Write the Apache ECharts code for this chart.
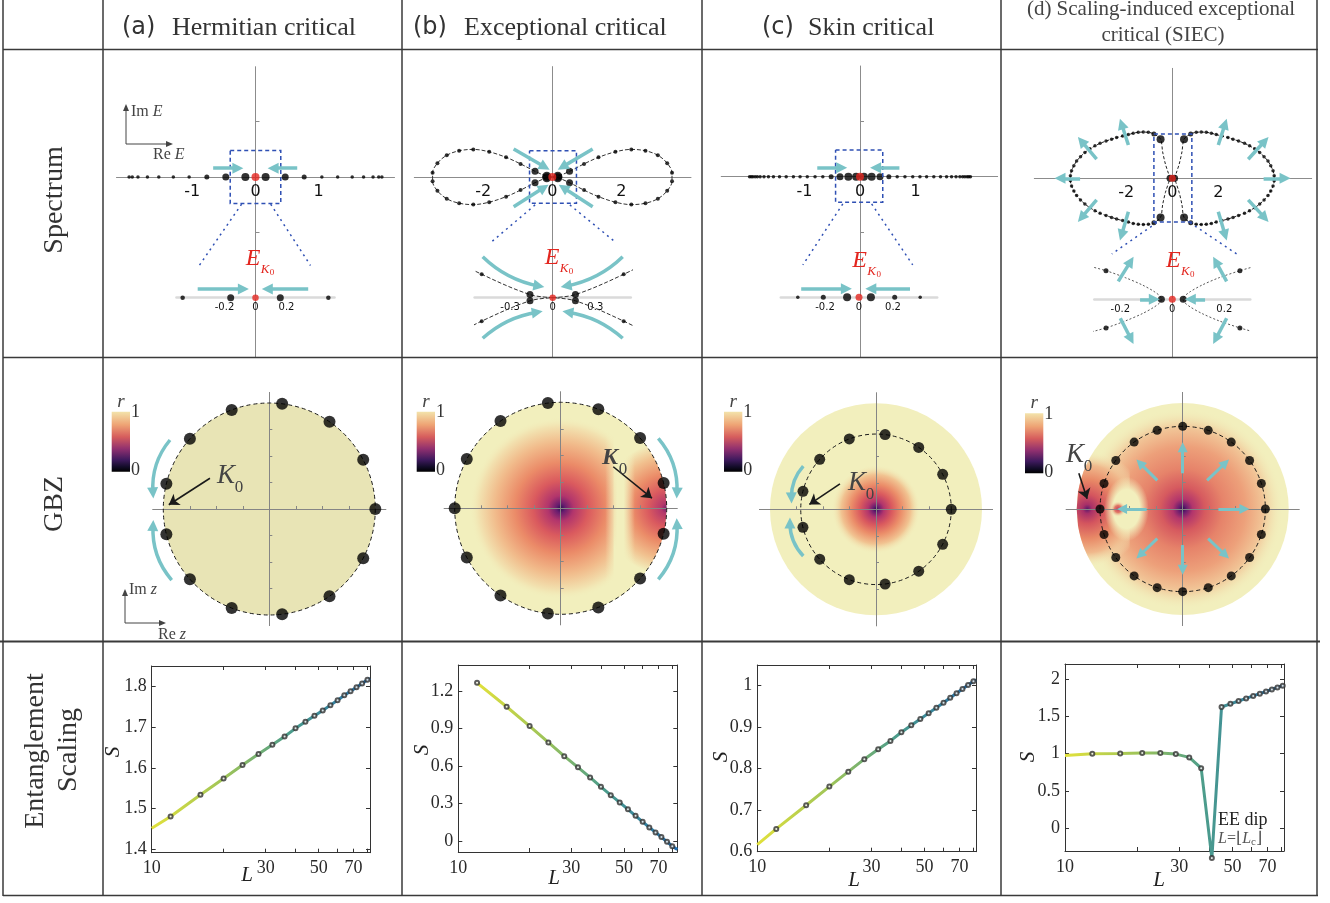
<!DOCTYPE html>
<html>
<head>
<meta charset="utf-8">
<script src="https://cdn.jsdelivr.net/npm/echarts@6.0.0/dist/echarts.min.js"></script>
<style>
html,body{margin:0;padding:0;background:#fff;}
#chart{width:1330px;height:903px;}
</style>
</head>
<body>
<div id="chart"></div>
<script>
// ======================= DATA =======================
// Row 1 – spectra, [Re E, Im E]
const specA_E = [-2.0,-1.95,-1.86,-1.71,-1.53,-1.30,-1.05,-0.77,-0.47,-0.16,0.16,0.47,0.77,1.05,1.30,1.53,1.71,1.86,1.95,2.0];
const specC_E = [-1.99,-1.96,-1.93,-1.89,-1.85,-1.80,-1.73,-1.65,-1.56,-1.45,-1.33,-1.20,-1.08,-0.95,-0.81,-0.67,-0.52,-0.36,-0.21,-0.07,
                 0.07,0.21,0.36,0.52,0.67,0.81,0.95,1.08,1.20,1.33,1.45,1.56,1.65,1.73,1.80,1.85,1.89,1.93,1.96,1.99];
const specB_left = [[-0.16,0.022],[-0.50,0.165],[-0.92,0.38],[-1.34,0.57],[-1.83,0.73],[-2.29,0.80],[-2.70,0.76],[-3.06,0.63],[-3.33,0.40],[-3.47,0.12],
                    [-3.47,-0.12],[-3.33,-0.40],[-3.06,-0.63],[-2.70,-0.76],[-2.29,-0.80],[-1.83,-0.73],[-1.34,-0.57],[-0.92,-0.38],[-0.50,-0.165],[-0.16,-0.022]];
const specB_right = [[0.16,0.022],[0.50,0.165],[0.92,0.38],[1.34,0.57],[1.83,0.73],[2.29,0.80],[2.70,0.76],[3.06,0.63],[3.33,0.40],[3.47,0.12],
                     [3.47,-0.12],[3.33,-0.40],[3.06,-0.63],[2.70,-0.76],[2.29,-0.80],[1.83,-0.73],[1.34,-0.57],[0.92,-0.38],[0.50,-0.165],[0.16,-0.022]];
const specD_left = [[-0.51,1.70],[-0.80,1.93],[-1.04,2.00],[-1.26,2.01],[-1.48,2.00],[-1.70,1.96],[-1.91,1.90],[-2.16,1.84],[-2.42,1.77],[-2.64,1.70],
                    [-2.88,1.62],[-3.14,1.52],[-3.36,1.41],[-3.58,1.28],[-3.80,1.12],[-3.99,0.94],[-4.16,0.75],[-4.28,0.55],[-4.38,0.33],[-4.43,0.11],
                    [-4.43,-0.11],[-4.38,-0.33],[-4.28,-0.55],[-4.16,-0.75],[-3.99,-0.94],[-3.80,-1.12],[-3.58,-1.28],[-3.36,-1.41],[-3.14,-1.52],[-2.88,-1.62],
                    [-2.64,-1.70],[-2.42,-1.77],[-2.16,-1.84],[-1.91,-1.90],[-1.70,-1.96],[-1.48,-2.00],[-1.26,-2.01],[-1.04,-2.00],[-0.80,-1.93],[-0.51,-1.70]];
const specD_right = [[0.51,1.70],[0.80,1.93],[1.04,2.00],[1.26,2.01],[1.48,2.00],[1.70,1.96],[1.91,1.90],[2.16,1.84],[2.42,1.77],[2.64,1.70],
                     [2.88,1.62],[3.14,1.52],[3.36,1.41],[3.58,1.28],[3.80,1.12],[3.99,0.94],[4.16,0.75],[4.28,0.55],[4.38,0.33],[4.43,0.11],
                     [4.43,-0.11],[4.38,-0.33],[4.28,-0.55],[4.16,-0.75],[3.99,-0.94],[3.80,-1.12],[3.58,-1.28],[3.36,-1.41],[3.14,-1.52],[2.88,-1.62],
                     [2.64,-1.70],[2.42,-1.77],[2.16,-1.84],[1.91,-1.90],[1.70,-1.96],[1.48,-2.00],[1.26,-2.01],[1.04,-2.00],[0.80,-1.93],[0.51,-1.70]];
const specD_neckUL = [[-0.10,0.00],[-0.17,0.22],[-0.30,0.62],[-0.42,1.15]];
const specD_neckLL = [[-0.42,-1.15],[-0.30,-0.62],[-0.17,-0.22],[-0.10,0.00]];
const specD_neckUR = [[0.10,0.00],[0.17,0.22],[0.30,0.62],[0.42,1.15]];
const specD_neckLR = [[0.42,-1.15],[0.30,-0.62],[0.17,-0.22],[0.10,0.00]];
const specD_center = [[-0.10,0],[0.10,0]];
// zoomed inset of (d)
const specDz_left = [[-0.33,0.13],[-0.255,0.11],[-0.18,0.083],[-0.115,0.055],[-0.07,0.03],[-0.047,0.012],[-0.042,0],[-0.047,-0.012],[-0.07,-0.03],[-0.115,-0.055],[-0.18,-0.083],[-0.255,-0.11],[-0.33,-0.13]];
const specDz_right = [[0.33,0.13],[0.26,0.11],[0.18,0.083],[0.115,0.055],[0.07,0.03],[0.047,0.012],[0.042,0],[0.047,-0.012],[0.07,-0.03],[0.115,-0.055],[0.18,-0.083],[0.26,-0.11],[0.33,-0.13]];
const specDz_pts = [[-0.255,0.11],[-0.255,-0.11],[0.26,0.11],[0.26,-0.11]];
const specDz_center = [[-0.042,0],[0.042,0]];
const E_K0 = [[0,0]];
// tick labels of the spectrum axes
const specMainLabels = [[-1,0,1],[-2,0,2],[-1,0,1],[-2,0,2]];
const specInsetLabels = [[-0.2,0,0.2],[-0.3,0,0.3],[-0.2,0,0.2],[-0.2,0,0.2]];

// Row 2 – GBZ points z = [Re z, Im z]
const gbzA_z = [[1,0],[0.886,0.465],[0.568,0.823],[0.121,0.993],[-0.355,0.935],[-0.749,0.663],[-0.971,0.239],[-0.971,-0.239],[-0.749,-0.663],[-0.355,-0.935],[0.121,-0.993],[0.568,-0.823],[0.886,-0.465]];
const gbzB_z = [[-1,0],[-0.886,-0.465],[-0.568,-0.823],[-0.121,-0.993],[0.355,-0.935],[0.749,-0.663],[0.971,-0.239],[0.971,0.239],[0.749,0.663],[0.355,0.935],[-0.121,0.993],[-0.568,0.823],[-0.886,0.465]];
const gbzC_z = [[0.71,0],[0.629,0.330],[0.403,0.584],[0.086,0.705],[-0.252,0.664],[-0.531,0.471],[-0.689,0.170],[-0.689,-0.170],[-0.531,-0.471],[-0.252,-0.664],[0.086,-0.705],[0.403,-0.584],[0.629,-0.330]];
const gbzD_z = [[0.78,0],[0.742,0.241],[0.631,0.458],[0.458,0.631],[0.241,0.742],[0,0.78],[-0.241,0.742],[-0.458,0.631],[-0.631,0.458],[-0.742,0.241],
                [-0.78,0],[-0.742,-0.241],[-0.631,-0.458],[-0.458,-0.631],[-0.241,-0.742],[0,-0.78],[0.241,-0.742],[0.458,-0.631],[0.631,-0.458],[0.742,-0.241]];
const gbz_ringR = [1, 1, 0.71, 0.78];

// Row 3 – entanglement entropy S vs L
const entXTicks = [10,20,30,40,50,60,70,80];
const entXLabels = [10,30,50,70];
const entABC_L = [12,16,20,24,28,32,36,40,44,48,52,56,60,64,68,72,76,80];
const entA_S = [1.481,1.534,1.574,1.607,1.634,1.657,1.677,1.697,1.713,1.728,1.741,1.754,1.766,1.778,1.788,1.798,1.807,1.816];
const entA_ends = [[10,1.452],[82,1.820]];
const entB_S = [1.267,1.075,0.920,0.789,0.679,0.589,0.508,0.433,0.366,0.308,0.252,0.200,0.152,0.107,0.067,0.030,-0.008,-0.043];
const entB_ends = [null,[84,-0.07]];
const entC_S = [0.655,0.712,0.757,0.793,0.823,0.847,0.867,0.888,0.905,0.920,0.934,0.947,0.959,0.971,0.982,0.992,1.002,1.011];
const entC_ends = [[10,0.617],[82,1.014]];
const entD_L = [13,17,21,25,29,33,37,41,45,49,53,57,61,65,69,73,77,81];
const entD_S = [0.998,1.002,1.007,1.007,0.993,0.949,0.805,-0.40,1.624,1.666,1.704,1.739,1.772,1.803,1.832,1.860,1.886,1.910];
const entD_ends = [[10,0.975],[82,1.913]];
const entA_yt = [1.4,1.5,1.6,1.7,1.8];
const entB_yt = [0,0.3,0.6,0.9,1.2];
const entC_yt = [0.6,0.7,0.8,0.9,1];
const entD_yt = [0,0.5,1,1.5,2];

// ======================= STYLE / LAYOUT =======================
const SERIF = "'Liberation Serif','DejaVu Serif','Times New Roman',serif";
const SANS = "'DejaVu Sans','Liberation Sans',Arial,sans-serif";
const RED = '#e3261f', TEAL = '#79c3c7', BLUE = '#2f50b4', LIGHT = '#f2efbd', LIGHT0 = 'rgba(242,239,189,0)';

const grids = [], xAxes = [], yAxes = [], series = [], graphics = [];
function addGrid(box, xa, ya) {
  const gi = grids.length;
  grids.push({left: box.left, top: box.top, width: box.width, height: box.height, show: false});
  const xi = xAxes.length; xAxes.push(Object.assign({gridIndex: gi, splitLine: {show: false}}, xa));
  const yi = yAxes.length; yAxes.push(Object.assign({gridIndex: gi, splitLine: {show: false}}, ya));
  return {gi, xi, yi};
}
function eqBox(ox, oy, s, xr, yr) {
  return {left: ox + xr[0] * s, top: oy - yr[1] * s, width: (xr[1] - xr[0]) * s, height: (yr[1] - yr[0]) * s};
}
// a thin label strip whose bottom edge sits on the Re-axis, so tick labels hang just under it
function labelStrip(p, labels, font, margin) {
  const b = eqBox(p.ox, p.oy, p.s, p.xr, [-0.01, 0]);
  addGrid({left: b.left, top: p.oy - 6, width: b.width, height: 6}, {
    type: 'value', min: p.xr[0], max: p.xr[1],
    axisLine: {show: false}, axisTick: {show: false},
    axisLabel: {customValues: labels, fontFamily: SANS, fontSize: font, color: '#111', margin, formatter: v => String(v)}
  }, {type: 'value', min: 0, max: 1, show: false});
}
function specMain(p, labels) {
  const ax = addGrid(eqBox(p.ox, p.oy, p.s, p.xr, p.yr), {
    type: 'value', min: p.xr[0], max: p.xr[1],
    axisLine: {onZero: true, lineStyle: {color: '#8c8c8c', width: 1}},
    axisTick: {show: false}, axisLabel: {show: false}
  }, {
    type: 'value', min: p.yr[0], max: p.yr[1],
    axisLine: {onZero: true, lineStyle: {color: '#8c8c8c', width: 1}},
    axisTick: {show: !!p.yticks, inside: true, length: 4, customValues: p.yticks || [], lineStyle: {color: '#8c8c8c'}},
    axisLabel: {show: false}
  });
  labelStrip(p, labels, 16, 7);
  ax.s = p.s; return ax;
}
function specInset(p, labels) {
  const ax = addGrid(eqBox(p.ox, p.oy, p.s, p.xr, p.yr), {
    type: 'value', min: p.xr[0], max: p.xr[1],
    axisLine: {onZero: true, lineStyle: {color: '#dadada', width: 2.5}},
    axisTick: {show: false}, axisLabel: {show: false}
  }, {
    type: 'value', min: p.yr[0], max: p.yr[1],
    axisLine: {show: false}, axisTick: {show: false}, axisLabel: {show: false}
  });
  labelStrip(p, labels, 10, 5);
  ax.s = p.s; return ax;
}
function gbzPanel(ox, oy) {
  const r = [-1.1, 1.1];
  const ticks = {show: true, inside: true, length: 3, customValues: [-0.75, -0.5, -0.25, 0.25, 0.5, 0.75], lineStyle: {color: '#858585'}};
  const ax = addGrid(eqBox(ox, oy, 106, r, r), {
    type: 'value', min: r[0], max: r[1], z: 2,
    axisLine: {onZero: true, lineStyle: {color: '#858585', width: 1}}, axisTick: ticks, axisLabel: {show: false}
  }, {
    type: 'value', min: r[0], max: r[1], z: 2,
    axisLine: {onZero: true, lineStyle: {color: '#858585', width: 1}}, axisTick: ticks, axisLabel: {show: false}
  });
  ax.s = 106; return ax;
}
function entPanel(p) {
  const box = {left: p.l, top: p.t, width: p.r - p.l, height: p.b - p.t};
  const lab = {fontFamily: SERIF, fontSize: 18, color: '#2a2a2a'};
  const line = {show: true, onZero: false, lineStyle: {color: '#333', width: 1}};
  const xt = {show: true, inside: true, length: 4, customValues: entXTicks, lineStyle: {color: '#333'}};
  const yt = {show: true, inside: true, length: 4, customValues: p.yt, lineStyle: {color: '#333'}};
  const ax = addGrid(box, {
    type: 'log', logBase: 10, min: p.xr[0], max: p.xr[1], position: 'bottom',
    axisLine: line, axisTick: xt, minorTick: {show: false},
    axisLabel: Object.assign({customValues: entXLabels, margin: 7, formatter: v => String(Math.round(v))}, lab)
  }, {
    type: 'value', min: p.yr[0], max: p.yr[1], position: 'left',
    axisLine: line, axisTick: yt,
    axisLabel: Object.assign({customValues: p.yt, margin: 5, formatter: v => String(+(+v).toFixed(1))}, lab)
  });
  xAxes.push({gridIndex: ax.gi, type: 'log', logBase: 10, min: p.xr[0], max: p.xr[1], position: 'top',
    axisLine: line, axisTick: xt, axisLabel: {show: false}, splitLine: {show: false}, minorTick: {show: false}});
  yAxes.push({gridIndex: ax.gi, type: 'value', min: p.yr[0], max: p.yr[1], position: 'right',
    axisLine: line, axisTick: yt, axisLabel: {show: false}, splitLine: {show: false}});
  return ax;
}

// ---- series helpers
function scatter(ax, data, size, color, z) {
  return {type: 'scatter', xAxisIndex: ax.xi, yAxisIndex: ax.yi, data, symbol: 'circle', symbolSize: size,
    itemStyle: {color: color || '#000'}, silent: true, z: z || 4};
}
function curve(ax, data, o) {
  return {type: 'line', xAxisIndex: ax.xi, yAxisIndex: ax.yi, data, showSymbol: false, symbol: 'none',
    smooth: o.smooth || false, clip: o.clip !== false, silent: true, z: o.z || 3,
    lineStyle: {color: o.color || '#222', width: o.width || 1, type: o.type || 'solid'}};
}
function shorten(seg, s, back) {
  const a = seg[0], b = seg[1];
  const dx = b[0] - a[0], dy = b[1] - a[1];
  const L = Math.hypot(dx, dy) * s;
  if (L <= back) return seg;
  const f = (L - back) / L;
  return [a, [a[0] + dx * f, a[1] + dy * f]];
}
function lines(ax, list, o) {
  return {type: 'lines', coordinateSystem: 'cartesian2d', xAxisIndex: ax.xi, yAxisIndex: ax.yi,
    polyline: !!o.polyline, clip: false, silent: true, z: o.z || 5,
    symbol: o.head ? ['none', o.head] : ['none', 'none'], symbolSize: o.headSize || 10,
    effect: {show: false},
    lineStyle: {color: o.color, width: o.width || 1, type: o.type || 'solid', curveness: 0, opacity: 1},
    data: list.map((c, i) => {
      const coords = o.head ? shorten(c, ax.s, o.back || 5) : c;
      const it = {coords};
      if (o.curv) it.lineStyle = {curveness: o.curv[i]};
      return it;
    })};
}
const rect = b => [[b[0], b[1]], [b[2], b[1]], [b[2], b[3]], [b[0], b[3]], [b[0], b[1]]];

// ---- graphic helpers
function T(x, y, text, size, o) {
  o = o || {};
  graphics.push({type: 'text', x, y, rotation: o.rot || 0, silent: true, z: 100,
    style: {text, fontSize: size, fontFamily: o.ff || SERIF, fontStyle: o.it ? 'italic' : 'normal',
      fontWeight: o.bold ? 'bold' : 'normal', fill: o.c || '#333',
      align: o.al || 'center', verticalAlign: 'middle', textAlign: o.al || 'center', textVerticalAlign: 'middle', rich: o.rich}});
}
function G(x1, y1, x2, y2, w, c) {
  graphics.push({type: 'line', silent: true, z: 100, shape: {x1, y1, x2, y2}, style: {stroke: c || '#3a3a3a', lineWidth: w || 1.5}});
}
function Tri(pts, c) {
  graphics.push({type: 'polygon', silent: true, z: 100, shape: {points: pts}, style: {fill: c || '#444'}});
}
function axesIcon(x0, y0, up, right, c) {
  G(x0, y0, x0, y0 - up + 5, 1, c); Tri([[x0, y0 - up], [x0 - 3, y0 - up + 7], [x0 + 3, y0 - up + 7]], c);
  G(x0, y0, x0 + right - 5, y0, 1, c); Tri([[x0 + right, y0], [x0 + right - 7, y0 - 3], [x0 + right - 7, y0 + 3]], c);
}
const CB_STOPS = [[0, '#f3e3ab'], [0.22, '#eea374'], [0.42, '#d65d5d'], [0.62, '#90306f'], [0.8, '#3f1a5e'], [0.92, '#120c28'], [1, '#000000']];
function colorbar(x, y, w, h) {
  graphics.push({type: 'rect', silent: true, z: 100, shape: {x, y, width: w, height: h},
    style: {fill: {type: 'linear', x: 0, y: 0, x2: 0, y2: 1, colorStops: CB_STOPS.map(s => ({offset: s[0], color: s[1]}))}}});
  T(x + w / 2, y - 10, 'r', 19, {it: true, c: '#444'});
  T(x + w + 1, y + 1, '1', 18, {al: 'left', c: '#333'});
  T(x + w + 1, y + h - 1, '0', 18, {al: 'left', c: '#333'});
}
function EK0(xE, y) {
  T(xE, y, 'E', 24, {it: true, c: RED});
  T(xE + 12, y + 11, 'K', 13, {it: true, c: RED});
  T(xE + 19, y + 14, '0', 9, {c: RED});
}
function K0(x, y, bold) {
  T(x, y, 'K', bold ? 24 : 27, {it: true, bold: !!bold, c: '#444'});
  T(x + 13, y + 12, '0', 17, {c: '#444'});
}

// ---- GBZ colour field renderers (decorative gradients)
function diskSlab(x0, x1, n) {
  const top = [], bot = [];
  for (let i = 0; i <= n; i++) {
    const x = x0 + (x1 - x0) * i / n, h = Math.sqrt(Math.max(0, 1 - x * x));
    top.push([x, h]); bot.push([x, -h]);
  }
  return top.concat(bot.reverse());
}
const stops = a => a.map(s => ({offset: s[0], color: s[1]}));
const BLOB = [[0, '#2a1150'], [0.07, '#6a1d6f'], [0.18, '#b2356c'], [0.36, '#da5a5e'], [0.56, '#eb8d69'], [0.78, '#f1c391'], [1, LIGHT0]];
function gbzFill(kind) {
  return function (params, api) {
    const c = api.coord([0, 0]), R = api.size([1, 0])[0];
    const P = (x, y) => [c[0] + x * R, c[1] - y * R];
    const rad = (cx, cy, r, st) => ({type: 'radial', x: P(cx, cy)[0], y: P(cx, cy)[1], r: r * R, global: true, colorStops: stops(st)});
    const disk = fill => ({type: 'circle', shape: {cx: c[0], cy: c[1], r: R}, style: {fill}});
    const blob = (cx, cy, r, st) => ({type: 'circle', shape: {cx: P(cx, cy)[0], cy: P(cx, cy)[1], r: r * R}, style: {fill: rad(cx, cy, r, st)}});
    const slab = (x0, x1, fill) => ({type: 'polygon', shape: {points: diskSlab(x0, x1, 40).map(p => P(p[0], p[1]))}, style: {fill}});
    const ch = [];
    if (kind === 'A') {
      ch.push(disk('#e8e4b5'));
    } else if (kind === 'B') {
      ch.push(disk(LIGHT));
      ch.push(blob(0, 0, 0.86, [[0, '#2a1150'], [0.05, '#6a1d6f'], [0.14, '#b2356c'], [0.3, '#da5a5e'], [0.5, '#eb8b68'], [0.72, '#f1bb8b'], [0.9, '#f2e2b0'], [1, LIGHT0]]));
      ch.push(slab(0.5, 1, rad(1, 0, 0.62, [[0, '#6e1f6e'], [0.08, '#b4386b'], [0.28, '#da5a5f'], [0.52, '#eb8c68'], [0.78, '#f1c08e'], [1, LIGHT]])));
      ch.push(slab(0.42, 0.7, {type: 'linear', x: P(0.42, 0)[0], y: 0, x2: P(0.7, 0)[0], y2: 0, global: true,
        colorStops: stops([[0, LIGHT0], [0.4, LIGHT], [0.62, LIGHT], [1, LIGHT0]])}));
    } else if (kind === 'C') {
      ch.push(disk(LIGHT));
      ch.push(blob(0, 0, 0.42, BLOB));
    } else if (kind === 'D') {
      ch.push(disk(LIGHT));
      ch.push(blob(0, 0, 0.95, [[0, '#2a1150'], [0.04, '#6a1d6f'], [0.1, '#b2356c'], [0.22, '#d65a5f'], [0.4, '#e6836a'], [0.62, '#eda07a'], [0.8, '#f1c496'], [1, LIGHT0]]));
      ch.push(slab(-1, -0.5, rad(-0.9, 0, 0.55, [[0, '#5a1a6a'], [0.08, '#a83068'], [0.25, '#d4555e'], [0.5, '#e88866'], [0.75, '#f0b98c'], [1, LIGHT0]])));
      const o = P(-0.53, 0);
      ch.push({type: 'circle', x: o[0], y: o[1], scaleY: 1.45, shape: {cx: 0, cy: 0, r: 0.21 * R},
        style: {fill: {type: 'radial', x: 0.5, y: 0.5, r: 0.5, colorStops: stops([[0, LIGHT], [0.6, LIGHT], [1, LIGHT0]])}}});
      ch.push(blob(-0.61, 0, 0.075, [[0, '#c23c62'], [0.45, '#e27a66'], [1, LIGHT0]]));
    }
    return {type: 'group', children: ch};
  };
}
function gbzRing(ax, R) {
  return {type: 'custom', xAxisIndex: ax.xi, yAxisIndex: ax.yi, data: [[0, 0, R]], silent: true, z: 3, clip: false,
    renderItem: (params, api) => {
      const c = api.coord([0, 0]), r = api.size([api.value(2), 0])[0];
      return {type: 'circle', shape: {cx: c[0], cy: c[1], r}, style: {fill: null, stroke: '#1a1a1a', lineWidth: 1, lineDash: [4, 3]}};
    }};
}
function gbzFillSeries(ax, kind) {
  return {type: 'custom', xAxisIndex: ax.xi, yAxisIndex: ax.yi, data: [[0, 0]], silent: true, z: 1, clip: false, renderItem: gbzFill(kind)};
}

// ======================= ROW 1 : SPECTRA =======================
const sizeA = d => { const a = Math.abs(d[0]); return a < 0.2 ? 8 : a < 0.5 ? 7 : a < 0.8 ? 5 : 3.5; };
const sizeC = d => { const a = Math.abs(d[0]); return a < 0.25 ? 8 : a < 0.4 ? 7 : a < 0.6 ? 5 : 3.5; };
const sizeB = d => { const a = Math.hypot(d[0], d[1]); return a < 0.3 ? 9 : a < 0.6 ? 7 : 4; };

const panels = [
  {m: {ox: 255.5, oy: 177, s: 63.2, xr: [-2.2, 2.2], yr: [-2.85, 1.745], yticks: [-0.88, 0.88]},
   i: {ox: 255.5, oy: 297.7, s: 155, xr: [-0.51, 0.51], yr: [-0.37, 0.37]},
   box: [-0.4, 0.42, 0.4, -0.42], conn: [[[-0.22, -0.43], [-0.89, -1.40]], [[0.24, -0.43], [0.87, -1.40]]],
   arr: [[[-0.67, 0.14], [-0.2, 0.14]], [[0.66, 0.14], [0.2, 0.14]]],
   iarr: [[[-0.373, 0.056], [-0.046, 0.056]], [[0.34, 0.056], [0.044, 0.056]]], ek: [253, 259]},
  {m: {ox: 552.3, oy: 177, s: 34.5, xr: [-4, 4.02], yr: [-5.22, 3.2]},
   i: {ox: 552.7, oy: 297.7, s: 142, xr: [-0.55, 0.55], yr: [-0.42, 0.42]},
   box: [-0.66, 0.76, 0.70, -0.76], conn: [[[-0.50, -0.81], [-1.76, -1.88]], [[0.51, -0.81], [1.82, -1.88]]],
   arr: [[[-1.12, 0.81], [-0.09, 0.22]], [[1.17, 0.81], [0.17, 0.22]], [[-1.12, -0.86], [-0.12, -0.23]], [[1.17, -0.86], [0.20, -0.23]]],
   iarr: [[[-0.493, 0.289], [-0.066, 0.066]], [[0.493, 0.289], [0.063, 0.066]], [[-0.493, -0.286], [-0.077, -0.087]], [[0.493, -0.286], [0.075, -0.087]]],
   icurv: [-0.15, 0.15, 0.15, -0.15], ek: [552, 258]},
  {m: {ox: 860, oy: 176.7, s: 55.5, xr: [-2.5, 2.48], yr: [-3.25, 1.995], yticks: [-1, 1]},
   i: {ox: 859, oy: 297.3, s: 170, xr: [-0.46, 0.46], yr: [-0.35, 0.34]},
   box: [-0.44, 0.48, 0.41, -0.46], conn: [[[-0.31, -0.49], [-1.03, -1.59]], [[0.21, -0.49], [0.95, -1.59]]],
   arr: [[[-0.77, 0.16], [-0.24, 0.16]], [[0.71, 0.16], [0.19, 0.16]]],
   iarr: [[[-0.34, 0.05], [-0.045, 0.05]], [[0.30, 0.05], [0.04, 0.05]]], ek: [859.7, 260.5]},
  {m: {ox: 1172.3, oy: 178.3, s: 23, xr: [-6, 6.06], yr: [-7.8, 4.78]},
   i: {ox: 1172.3, oy: 299.3, s: 260, xr: [-0.3, 0.3], yr: [-0.225, 0.225]},
   box: [-0.8, 1.93, 0.85, -1.9], conn: [[[-0.68, -1.93], [-2.63, -3.29]], [[0.77, -1.93], [2.8, -3.29]]],
   arr: [[[-4.01, 0], [-5.1, 0]], [[3.97, 0], [5.12, 0]], [[-3.29, 0.83], [-4.09, 1.78]], [[-1.91, 1.45], [-2.27, 2.57]],
         [[-3.29, -0.94], [-4.09, -1.88]], [[-1.91, -1.45], [-2.27, -2.68]], [[3.30, 0.83], [4.17, 1.78]], [[2.0, 1.45], [2.36, 2.57]],
         [[3.30, -0.94], [4.17, -1.88]], [[2.0, -1.45], [2.36, -2.68]]],
   iarr: [[[-0.124, 0], [-0.05, 0]], [[0.126, 0], [0.05, 0]], [[-0.208, 0.069], [-0.15, 0.162]], [[0.209, 0.069], [0.158, 0.162]],
          [[-0.2, -0.073], [-0.15, -0.17]], [[0.209, -0.073], [0.158, -0.17]]], ek: [1173.3, 261]}
];
const SM = [], SI = [];
panels.forEach((p, k) => {
  const m = specMain(p.m, specMainLabels[k]), i = specInset(p.i, specInsetLabels[k]);
  SM.push(m); SI.push(i);
  series.push(lines(m, [rect(p.box)], {polyline: true, color: BLUE, width: 1.5, type: [4, 3], z: 6}));
  series.push(lines(m, p.conn, {color: BLUE, width: 1.5, type: [2, 4]}));
  series.push(lines(m, p.arr, {color: TEAL, width: 3.5, head: 'triangle', headSize: 11, back: 5, z: 7}));
  series.push(lines(i, p.iarr, {color: TEAL, width: 3.5, head: 'triangle', headSize: 11, back: 5, z: 7, curv: p.icurv}));
  EK0(p.ek[0], p.ek[1]);
});
// (a)
series.push(scatter(SM[0], specA_E.map(e => [e, 0]), sizeA));
series.push(scatter(SM[0], E_K0, 8, RED, 5));
series.push(scatter(SI[0], specA_E.map(e => [e, 0]), d => Math.abs(d[0]) < 0.2 ? 7 : 4.5));
series.push(scatter(SI[0], E_K0, 6.5, RED, 5));
// (b)
series.push(curve(SM[1], [[0, 0]].concat(specB_left, [[0, 0]]), {smooth: 0.35, type: [4, 2], color: '#333'}));
series.push(curve(SM[1], [[0, 0]].concat(specB_right, [[0, 0]]), {smooth: 0.35, type: [4, 2], color: '#333'}));
series.push(scatter(SM[1], specB_left.concat(specB_right), sizeB));
series.push(scatter(SM[1], E_K0, 8, RED, 5));
series.push(curve(SI[1], [[0, 0]].concat(specB_left, [[0, 0]]), {smooth: 0.35, type: [4, 2], color: '#333'}));
series.push(curve(SI[1], [[0, 0]].concat(specB_right, [[0, 0]]), {smooth: 0.35, type: [4, 2], color: '#333'}));
series.push(scatter(SI[1], specB_left.concat(specB_right), d => Math.hypot(d[0], d[1]) < 0.3 ? 7 : 4));
series.push(scatter(SI[1], E_K0, 6.5, RED, 5));
// (c)
series.push(scatter(SM[2], specC_E.map(e => [e, 0]), sizeC));
series.push(scatter(SM[2], E_K0, 8, RED, 5));
series.push(scatter(SI[2], specC_E.map(e => [e, 0]), d => { const a = Math.abs(d[0]); return a < 0.15 ? 8 : a < 0.3 ? 5 : 3.5; }));
series.push(scatter(SI[2], E_K0, 7, RED, 5));
// (d)
series.push(curve(SM[3], specD_neckUL.concat(specD_left, specD_neckLL), {smooth: 0.3, type: [3, 2], color: '#222', width: 1}));
series.push(curve(SM[3], specD_neckUR.concat(specD_right, specD_neckLR), {smooth: 0.3, type: [3, 2], color: '#222', width: 1}));
series.push(scatter(SM[3], specD_left.concat(specD_right), d => { const a = Math.abs(d[0]); return a < 0.6 ? 8 : a < 0.9 ? 5 : 3.5; }));
series.push(scatter(SM[3], specD_center, 7));
series.push(scatter(SM[3], E_K0, 7, RED, 5));
series.push(curve(SI[3], specDz_left, {smooth: 0.3, type: [2, 2], color: '#444', width: 0.9}));
series.push(curve(SI[3], specDz_right, {smooth: 0.3, type: [2, 2], color: '#444', width: 0.9}));
series.push(scatter(SI[3], specDz_pts, 5));
series.push(scatter(SI[3], specDz_center, 7));
series.push(scatter(SI[3], E_K0, 7, RED, 5));

// ======================= ROW 2 : GBZ =======================
const gbz = [
  {o: [269.3, 509], kind: 'A', z: gbzA_z, size: 12, k0: [[-0.56, 0.29], [-0.98, 0.02]],
   arcs: [[[-0.937, 0.651], [-1.109, 0.116]], [[-0.921, -0.67], [-1.109, -0.12]]], curv: [-0.2, 0.2], cb: [111.7, 411.7], K: [226, 476]},
  {o: [560.7, 508.3], kind: 'B', z: gbzB_z, size: 12, k0: [[0.496, 0.392], [0.89, 0.072]],
   arcs: [[[0.921, 0.66], [1.109, 0.109]], [[0.921, -0.67], [1.109, -0.11]]], curv: [0.2, -0.2], cb: [416.7, 411.7], K: [610, 458], bold: true},
  {o: [876, 509.3], kind: 'C', z: gbzC_z, size: 11, k0: [[-0.34, 0.24], [-0.66, 0.025]],
   arcs: [[[-0.686, 0.408], [-0.811, 0.072]], [[-0.686, -0.44], [-0.826, -0.094]]], curv: [-0.2, 0.2], cb: [724, 411.7], K: [857, 483]},
  {o: [1182.7, 509], kind: 'D', z: gbzD_z, size: 9, k0: [[-0.98, 0.337], [-0.89, 0.06]],
   radial: [[[0, 0.337], [0, 0.62]], [[0.337, 0], [0.62, 0]], [[0, -0.34], [0, -0.61]], [[-0.34, 0], [-0.61, 0]],
            [[0.23, 0.27], [0.43, 0.46]], [[-0.24, 0.27], [-0.43, 0.46]], [[-0.24, -0.28], [-0.43, -0.46]], [[0.24, -0.28], [0.43, -0.46]]],
   cb: [1025, 413.3], K: [1075, 455]}
];
gbz.forEach((g, k) => {
  const ax = gbzPanel(g.o[0], g.o[1]);
  series.push(gbzFillSeries(ax, g.kind));
  series.push(gbzRing(ax, gbz_ringR[k]));
  series.push(scatter(ax, g.z, g.size, '#000', 4));
  series.push(lines(ax, [g.k0], {color: '#1a1a1a', width: 1.6, head: 'arrow', headSize: 10, back: 4, z: 6}));
  if (g.arcs) series.push(lines(ax, g.arcs, {color: TEAL, width: 3.5, head: 'triangle', headSize: 11, back: 4, z: 6, curv: g.curv}));
  if (g.radial) series.push(lines(ax, g.radial, {color: TEAL, width: 3, head: 'triangle', headSize: 10, back: 4, z: 6}));
  colorbar(g.cb[0], g.cb[1], 18.3, 60);
  K0(g.K[0], g.K[1], g.bold);
});

// ======================= ROW 3 : ENTANGLEMENT =======================
const GRAD = {type: 'linear', x: 0, y: 0, x2: 1, y2: 0, colorStops: stops([[0, '#e4e23a'], [0.35, '#9cc35a'], [0.62, '#4e9e8a'], [1, '#1f6db4']])};
const ents = [
  {p: {l: 151.7, t: 666, r: 370, b: 852.7, xr: [10, 82], yr: [1.392, 1.85], yt: entA_yt}, L: entABC_L, S: entA_S, ends: entA_ends, S_: [113, 752], L_: [247, 875]},
  {p: {l: 458.3, t: 665, r: 677.3, b: 852, xr: [10, 84], yr: [-0.09, 1.41], yt: entB_yt}, L: entABC_L, S: entB_S, ends: entB_ends, S_: [422, 750], L_: [554, 878]},
  {p: {l: 757.3, t: 665, r: 976, b: 851.7, xr: [10, 82], yr: [0.6, 1.05], yt: entC_yt}, L: entABC_L, S: entC_S, ends: entC_ends, S_: [721, 757], L_: [854, 880]},
  {p: {l: 1065, t: 664, r: 1284, b: 851, xr: [10, 82], yr: [-0.305, 2.2], yt: entD_yt}, L: entD_L, S: entD_S, ends: entD_ends, S_: [1028, 757], L_: [1159, 880]}
];
ents.forEach((e, k) => {
  const ax = entPanel(e.p);
  const pts = e.L.map((L, i) => [L, e.S[i]]);
  const lineData = (e.ends[0] ? [e.ends[0]] : []).concat(pts, e.ends[1] ? [e.ends[1]] : []);
  series.push({type: 'line', xAxisIndex: ax.xi, yAxisIndex: ax.yi, data: lineData, showSymbol: false, symbol: 'none',
    clip: false, silent: true, z: 3, lineStyle: {width: 3, color: GRAD}});
  series.push({type: 'scatter', xAxisIndex: ax.xi, yAxisIndex: ax.yi, data: pts, symbol: 'emptyCircle', symbolSize: 4,
    clip: false, silent: true, z: 4, itemStyle: {color: '#333', borderColor: '#333', borderWidth: 0.8}});
  T(e.S_[0], e.S_[1], 'S', 21, {it: true, rot: Math.PI / 2, c: '#222'});
  T(e.L_[0], e.L_[1], 'L', 21, {it: true, c: '#222'});
});
T(1218, 820, 'EE dip', 18, {al: 'left', c: '#222'});
T(1218, 839, '{i|L}{n|=⌊}{i|L}{s|c}{n|⌋}', 16, {al: 'left', c: '#555',
  rich: {i: {fontStyle: 'italic', fontSize: 16, fontFamily: SERIF, fill: '#555'}, n: {fontSize: 16, fontFamily: SERIF, fill: '#555'},
         s: {fontSize: 11, fontFamily: SERIF, fill: '#555', padding: [6, 0, 0, 0]}}});

// ======================= TABLE FRAME & TEXT =======================
G(3, 49.5, 1318, 49.5, 1.5); G(3, 357.5, 1318, 357.5, 1.5); G(0, 641.5, 1320, 641.5, 2); G(3, 895.5, 1318, 895.5, 1.5);
[3, 103, 402, 702, 1001, 1317].forEach(x => G(x, 0, x, 896, 1.5));
T(122, 28, '(a)', 24, {ff: SANS, al: 'left'}); T(172, 28, 'Hermitian critical', 26, {al: 'left'});
T(413, 28, '(b)', 24, {ff: SANS, al: 'left'}); T(464, 28, 'Exceptional critical', 26, {al: 'left'});
T(762, 28, '(c)', 24, {ff: SANS, al: 'left'}); T(808, 28, 'Skin critical', 26, {al: 'left'});
T(1161, 9, '(d) Scaling-induced exceptional', 21, {c: '#444'});
T(1163, 35, 'critical (SIEC)', 21, {c: '#444'});
T(55, 200, 'Spectrum', 28, {rot: Math.PI / 2});
T(55, 504, 'GBZ', 28, {rot: Math.PI / 2});
T(36, 751, 'Entanglement', 28, {rot: Math.PI / 2});
T(69, 750, 'Scaling', 28, {rot: Math.PI / 2});
// axis icons
axesIcon(126, 144, 40, 47, '#444');
const richIE = {n: {fontSize: 16, fontFamily: SERIF, fill: '#444'}, i: {fontSize: 16, fontFamily: SERIF, fontStyle: 'italic', fill: '#444'}};
T(131, 112, '{n|Im }{i|E}', 16, {al: 'left', rich: richIE});
T(153, 155, '{n|Re }{i|E}', 16, {al: 'left', rich: richIE});
axesIcon(125, 623, 34, 41, '#444');
T(129, 590, '{n|Im }{i|z}', 16, {al: 'left', rich: richIE});
T(158, 635, '{n|Re }{i|z}', 16, {al: 'left', rich: richIE});

const chart = echarts.init(document.getElementById('chart'), null, {renderer: 'canvas'});
chart.setOption({
  animation: false, backgroundColor: '#ffffff',
  grid: grids, xAxis: xAxes, yAxis: yAxes, series,
  graphic: {elements: graphics}
});
</script>
</body>
</html>
